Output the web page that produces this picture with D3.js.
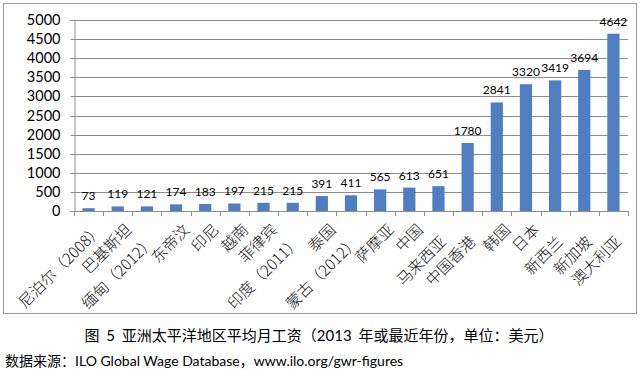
<!DOCTYPE html>
<html>
<head>
<meta charset="utf-8">
<script src="https://cdn.jsdelivr.net/npm/d3@7"></script>
<style>
  html, body { margin: 0; padding: 0; background: #fff; }
  svg { display: block; }
</style>
</head>
<body>
<svg id="chart" width="640" height="372"></svg>
<script>
// ---- data ----
const categories = ["尼泊尔（2008）", "巴基斯坦", "缅甸（2012）", "东帝汶", "印尼", "越南", "菲律宾",
  "印度（2011）", "泰国", "蒙古（2012）", "萨摩亚", "中国", "马来西亚", "中国香港", "韩国",
  "日本", "新西兰", "新加坡", "澳大利亚"];
const wages = [73, 119, 121, 174, 183, 197, 215, 215, 391, 411, 565, 613, 651, 1780, 2841,
  3320, 3419, 3694, 4642];
// labels that sit one line lower in the original
const loweredLabels = ["缅甸（2012）", "印度（2011）", "蒙古（2012）", "马来西亚", "中国香港",
  "新西兰", "新加坡", "澳大利亚"];
const yTicks = [0, 500, 1000, 1500, 2000, 2500, 3000, 3500, 4000, 4500, 5000];
const captionText = "图 5 亚洲太平洋地区平均月工资（2013 年或最近年份，单位：美元）";
const sourceText = "数据来源：ILO Global Wage Database，www.ilo.org/gwr-figures";

// ---- layout ----
const svg = d3.select("#chart");
const plot = { left: 74, right: 628, top: 20, bottom: 211 };
const latin = "Lato, 'Noto Sans CJK SC', sans-serif";
const cjk = "'Noto Sans CJK SC', sans-serif";

const x = d3.scaleBand().domain(categories).range([plot.left, plot.right])
  .paddingInner(0.58).paddingOuter(0.29);
const y = d3.scaleLinear().domain([0, 5000]).range([plot.bottom, plot.top]);

// outer frame
svg.append("rect").attr("x", 3.5).attr("y", 3.5).attr("width", 633).attr("height", 310)
  .attr("fill", "#fff").attr("stroke", "#9a9a9a").attr("stroke-width", 1);

// gridlines
svg.append("g").selectAll("line").data(yTicks.filter(d => d > 0)).join("line")
  .attr("x1", plot.left).attr("x2", plot.right)
  .attr("y1", d => Math.round(y(d)) + 0.5).attr("y2", d => Math.round(y(d)) + 0.5)
  .attr("stroke", "#8c8c8c").attr("stroke-width", 1);

// y axis
const yAxis = svg.append("g").attr("transform", `translate(${plot.left + 0.5},0)`)
  .call(d3.axisLeft(y).tickValues(yTicks).tickSize(4).tickPadding(10).tickFormat(d3.format("d")));
yAxis.select(".domain").attr("stroke", "#8c8c8c");
yAxis.selectAll(".tick line").attr("stroke", "#8c8c8c");
yAxis.selectAll(".tick text").attr("font-family", latin).attr("font-size", 14.5).attr("fill", "#000");
yAxis.selectAll(".tick").attr("transform", d => `translate(0,${Math.round(y(d)) + 0.5})`);

// bars
svg.append("g").selectAll("rect").data(categories).join("rect")
  .attr("x", d => x(d))
  .attr("width", x.bandwidth())
  .attr("y", (d, i) => y(wages[i]))
  .attr("height", (d, i) => y(0) - y(wages[i]))
  .attr("fill", "#4f7fc2");

// x axis
const boundaries = d3.range(categories.length + 1).map(k => plot.left + k * (plot.right - plot.left) / categories.length);
const xAxisG = svg.append("g");
xAxisG.append("line").attr("x1", plot.left).attr("x2", plot.right)
  .attr("y1", Math.round(y(0)) + 0.5).attr("y2", Math.round(y(0)) + 0.5)
  .attr("stroke", "#8c8c8c");
xAxisG.selectAll("line.tk").data(boundaries).join("line").attr("class", "tk")
  .attr("x1", d => Math.round(d) + 0.5).attr("x2", d => Math.round(d) + 0.5)
  .attr("y1", Math.round(y(0))).attr("y2", Math.round(y(0)) + 5)
  .attr("stroke", "#8c8c8c");

// category labels
svg.append("g").selectAll("text").data(categories).join("text")
  .attr("transform", d => {
    const cx = x(d) + x.bandwidth() / 2;
    const low = loweredLabels.includes(d);
    const ax = cx + (low ? 0 : 6);
    const ay = low ? 234 : 222;
    return `translate(${ax},${ay}) rotate(-45)`;
  })
  .attr("text-anchor", "end")
  .attr("dy", "0.8em")
  .attr("font-family", cjk).attr("font-size", 15.5).attr("font-weight", 300).attr("fill", "#111")
  .text(d => d);

// data labels
svg.append("g").selectAll("text").data(categories).join("text")
  .attr("x", d => x(d) + x.bandwidth() / 2)
  .attr("y", (d, i) => y(wages[i]) - 8)
  .attr("text-anchor", "middle")
  .attr("font-family", latin).attr("font-size", 12).attr("fill", "#000")
  .text((d, i) => wages[i]);

// caption & source
svg.append("text").attr("x", 319).attr("y", 341).attr("text-anchor", "middle")
  .attr("font-family", latin).attr("font-size", 15).attr("word-spacing", 3).attr("fill", "#000")
  .text(captionText);
svg.append("text").attr("x", 5).attr("y", 366)
  .attr("font-family", latin).attr("font-size", 14).attr("fill", "#000")
  .text(sourceText);
</script>
</body>
</html>
